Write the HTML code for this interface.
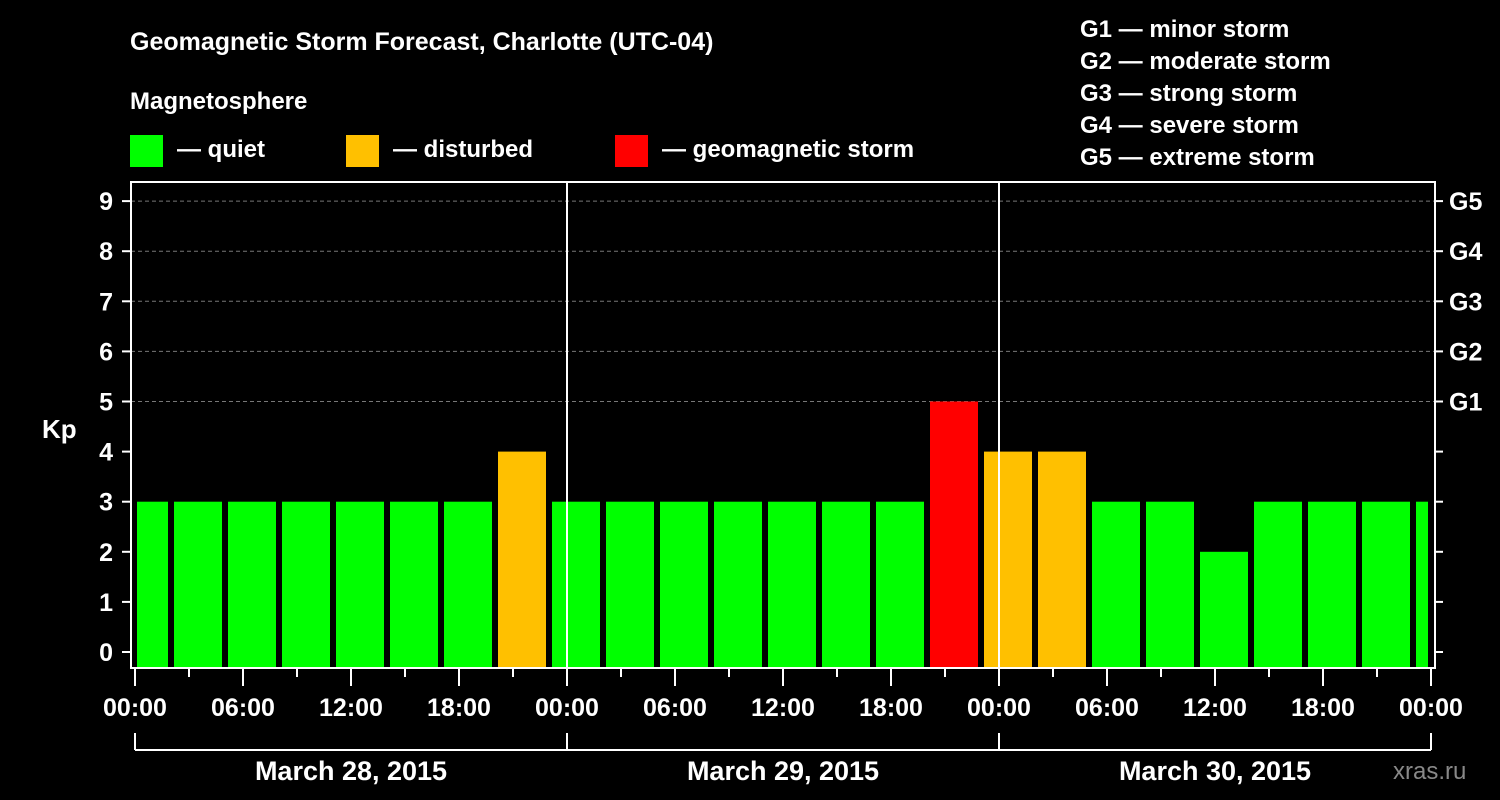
<!DOCTYPE html>
<html><head><meta charset="utf-8"><style>
body{margin:0;background:#000;}
svg{display:block;font-family:"Liberation Sans",Arial,sans-serif;font-weight:bold;}
</style></head><body>
<svg id="c" width="1500" height="800" viewBox="0 0 1500 800">
<rect width="1500" height="800" fill="#000"/>
<text x="130" y="50" fill="#fff" font-size="25">Geomagnetic Storm Forecast, Charlotte (UTC-04)</text>
<text x="130" y="109" fill="#fff" font-size="24">Magnetosphere</text>
<g><rect x="130" y="135" width="33" height="32" fill="#00ff00"/><text x="177" y="157" fill="#fff" font-size="24">— quiet</text></g>
<g><rect x="346" y="135" width="33" height="32" fill="#ffc000"/><text x="393" y="157" fill="#fff" font-size="24">— disturbed</text></g>
<g><rect x="615" y="135" width="33" height="32" fill="#ff0000"/><text x="662" y="157" fill="#fff" font-size="24">— geomagnetic storm</text></g>
<g fill="#fff" font-size="24">
<text x="1080" y="37">G1 — minor storm</text><text x="1080" y="69">G2 — moderate storm</text><text x="1080" y="101">G3 — strong storm</text><text x="1080" y="133">G4 — severe storm</text><text x="1080" y="165">G5 — extreme storm</text></g>
<text x="42" y="438" fill="#fff" font-size="26">Kp</text>
<text x="1393" y="779" fill="#888" font-size="24" font-weight="normal">xras.ru</text>
<g id="plot"></g>
</svg>
<script>
const kpValues=[3,3,3,3,3,3,3,4,3,3,3,3,3,3,3,5,4,4,3,3,2,3,3,3,3];
const yTicks=[0,1,2,3,4,5,6,7,8,9];
const gLabels=["G1","G2","G3","G4","G5"];
const timeLabels=["00:00","06:00","12:00","18:00","00:00","06:00","12:00","18:00","00:00","06:00","12:00","18:00","00:00"];
const dayLabels=["March 28, 2015","March 29, 2015","March 30, 2015"];
const NS="http://www.w3.org/2000/svg";
const g=document.getElementById('plot');
const L=131,R=1435,T=182,B=668,X0=135,HPX=18;
const y=k=>652-50.1*k;
const x=h=>X0+HPX*h;
function mk(t,a){const e=document.createElementNS(NS,t);for(const k in a)e.setAttribute(k,a[k]);g.appendChild(e);return e;}
function color(v){return v>=5?"#ff0000":v>=4?"#ffc000":"#00ff00";}
yTicks.forEach(k=>{if(k>=5){const l=mk('line',{x1:L,x2:R,y1:y(k),y2:y(k),stroke:'#777','stroke-dasharray':'4,3'});

}});
kpValues.forEach((v,i)=>{let x1=Math.max(x(3*i)-15,137),x2=Math.min(x(3*i)+33,1428);
const r=mk('rect',{x:x1,y:y(v),width:x2-x1,height:B-y(v),fill:color(v)});

});
[24,48].forEach(h=>{const l=mk('line',{x1:x(h),x2:x(h),y1:T,y2:B,stroke:'#fff','stroke-width':2});

});
const fr=mk('rect',{x:L,y:T,width:R-L,height:B-T,fill:'none',stroke:'#fff','stroke-width':2});


yTicks.forEach(k=>{mk('line',{x1:122,x2:L,y1:y(k),y2:y(k),stroke:'#fff','stroke-width':2});
mk('line',{x1:R,x2:1443,y1:y(k),y2:y(k),stroke:'#fff','stroke-width':2});
const t=mk('text',{x:113,y:y(k)+9,fill:'#fff','font-size':25,'text-anchor':'end'});t.textContent=k;

});
gLabels.forEach((s,i)=>{const t=mk('text',{x:1449,y:y(5+i)+9,fill:'#fff','font-size':25});t.textContent=s;

});
for(let h=0;h<=72;h+=3){mk('line',{x1:x(h),x2:x(h),y1:B,y2:h%6?677:686,stroke:'#fff','stroke-width':2});}
timeLabels.forEach((s,i)=>{const t=mk('text',{x:x(6*i),y:716,fill:'#fff','font-size':25,'text-anchor':'middle'});t.textContent=s;

});
mk('line',{x1:x(0),x2:x(72),y1:750,y2:750,stroke:'#fff','stroke-width':2});
[0,24,48,72].forEach(h=>mk('line',{x1:x(h),x2:x(h),y1:733,y2:750,stroke:'#fff','stroke-width':2}));
dayLabels.forEach((s,i)=>{const t=mk('text',{x:x(24*i+12),y:780,fill:'#fff','font-size':27,'text-anchor':'middle'});t.textContent=s;

});
</script>
</body></html>
